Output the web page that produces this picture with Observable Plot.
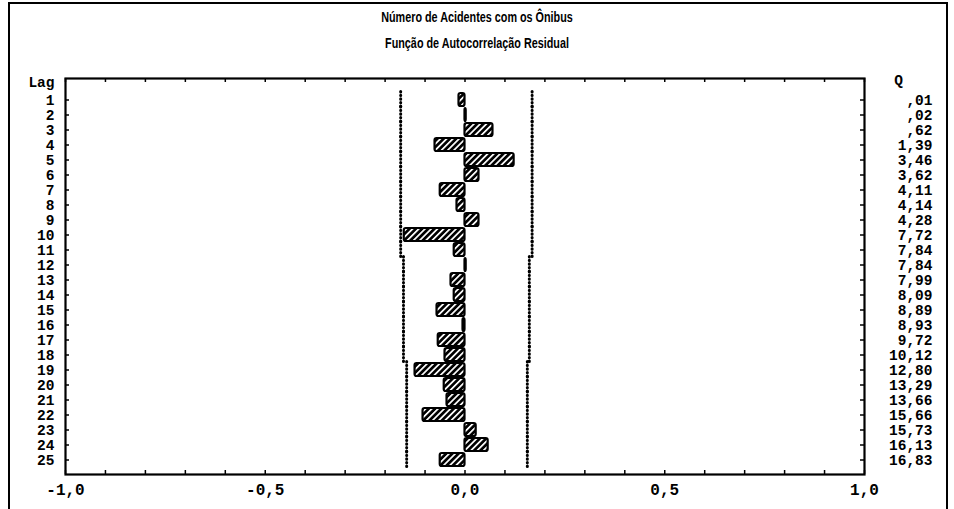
<!DOCTYPE html>
<html>
<head>
<meta charset="utf-8">
<script src="https://cdn.jsdelivr.net/npm/d3@7"></script>
<script src="https://cdn.jsdelivr.net/npm/@observablehq/plot@0.6"></script>
<style>
  body { margin: 0; background: #fff; }
  #wrap { position: relative; width: 954px; height: 509px; overflow: hidden; background: #fff; }
  #border { position: absolute; left: 8px; top: 2px; width: 936px; height: 540px; border: 2px solid #000; border-bottom: none; pointer-events: none; }
  #head { height: 74px; position: relative; }
  .t { position: absolute; left: 0; width: 954px; text-align: center; font-family: "Liberation Sans", Arial, sans-serif; font-weight: bold; font-size: 15px; color: #000; transform: scaleX(0.72); transform-origin: 477px 0; }
  #t1 { top: 8px; }
  #t2 { top: 34px; }
  svg { display: block; }
</style>
</head>
<body>
<div id="wrap">
  <div id="head">
    <div class="t" id="t1">Número de Acidentes com os Ônibus</div>
    <div class="t" id="t2">Função de Autocorrelação Residual</div>
  </div>
  <div id="chart"></div>
  <div id="border"></div>
</div>
<script>
// ---- data ----
const lags = [1,2,3,4,5,6,7,8,9,10,11,12,13,14,15,16,17,18,19,20,21,22,23,24,25];
const acf = [-0.015, 0.003, 0.07, -0.075, 0.123, 0.035, -0.062, -0.02, 0.035, -0.152,
             -0.027, 0.003, -0.035, -0.027, -0.07, -0.005, -0.067, -0.05, -0.125, -0.052,
             -0.045, -0.105, 0.028, 0.058, -0.062];
const qLabels = [",01", ",02", ",62", "1,39", "3,46", "3,62", "4,11", "4,14", "4,28", "7,72",
                 "7,84", "7,84", "7,99", "8,09", "8,89", "8,93", "9,72", "10,12", "12,80", "13,29",
                 "13,66", "15,66", "15,73", "16,13", "16,83"];
const lowerLimit = [-0.161,-0.161,-0.161,-0.161,-0.161,-0.161,-0.161,-0.161,-0.161,-0.161,-0.161,
                    -0.154,-0.154,-0.154,-0.154,-0.154,-0.154,-0.154,
                    -0.146,-0.146,-0.146,-0.146,-0.146,-0.146,-0.146];
const upperLimit = [0.168,0.168,0.168,0.168,0.168,0.168,0.168,0.168,0.168,0.168,0.168,
                    0.161,0.161,0.161,0.161,0.161,0.161,0.161,
                    0.156,0.156,0.156,0.156,0.156,0.156,0.156];
const xTicks = [-1, -0.5, 0, 0.5, 1];
const minorTicks = d3.range(-10, 11).map(i => i / 10);

const rows = lags.map((lag, i) => ({lag, r: acf[i], q: qLabels[i], lo: lowerLimit[i], hi: upperLimit[i]}));

const mono = "'Liberation Mono', 'DejaVu Sans Mono', monospace";
const W = 954, H = 435, mT = 4, mB = 35, mL = 65, mR = 90;
const frameW = W - mL - mR, frameH = H - mT - mB;

const dotted = {stroke: "#000", strokeWidth: 3, strokeLinecap: "round", strokeDasharray: "0.4,3.2", insetTop: -1.4, insetBottom: -1.4};

const chart = Plot.plot({
  width: W,
  height: H,
  marginTop: mT,
  marginBottom: mB,
  marginLeft: mL,
  marginRight: mR,
  style: {fontFamily: mono, background: "#fff", color: "#000", overflow: "visible"},
  x: {domain: [-1, 1]},
  y: {type: "band", domain: lags, padding: 0.14, insetTop: 9, insetBottom: 3, axis: null},
  marks: [
    // confidence limits (dotted)
    Plot.ruleX(rows, {x: "lo", y1: "lag", y2: "lag", ...dotted}),
    Plot.ruleX(rows, {x: "hi", y1: "lag", y2: "lag", ...dotted}),
    // bars
    Plot.barX(rows, {x1: 0, x2: "r", y: "lag", fill: "url(#hatch)", stroke: "#000", strokeWidth: 2.2, rx: 2}),
    // inward ticks
    Plot.tickY(lags, {y: d => d, stroke: "#000", strokeWidth: 1.5, insetRight: frameW - 4}),
    Plot.tickY(lags, {y: d => d, stroke: "#000", strokeWidth: 1.5, insetLeft: frameW - 4}),
    Plot.tickX(minorTicks, {x: d => d, stroke: "#000", strokeWidth: 1.5, insetTop: frameH - 4}),
    Plot.tickX(minorTicks, {x: d => d, stroke: "#000", strokeWidth: 1.5, insetBottom: frameH - 4}),
    Plot.frame({stroke: "#000", strokeWidth: 2.2}),
    // lag labels (left) and Q labels (right)
    Plot.text(rows, {y: "lag", text: d => String(d.lag), frameAnchor: "left", dx: -11, textAnchor: "end",
      fontFamily: mono, fontWeight: "bold", fontSize: 14.5, fill: "#000"}),
    Plot.text(rows, {y: "lag", text: "q", frameAnchor: "right", dx: 68, textAnchor: "end",
      fontFamily: mono, fontWeight: "bold", fontSize: 14.5, fill: "#000"}),
    Plot.text(["Lag"], {frameAnchor: "top-left", dx: -11, dy: 4, lineAnchor: "middle", textAnchor: "end",
      fontFamily: mono, fontWeight: "bold", fontSize: 14.5, fill: "#000"}),
    Plot.text(["Q"], {frameAnchor: "top-right", dx: 34, dy: 2, lineAnchor: "middle", textAnchor: "middle",
      fontFamily: mono, fontWeight: "bold", fontSize: 14.5, fill: "#000"}),
    // x axis
    Plot.axisX(xTicks, {anchor: "bottom", tickSize: 0, tickPadding: 9,
      tickFormat: d => d.toFixed(1).replace(".", ","),
      fontFamily: mono, fontWeight: "bold", fontSize: 16, fill: "#000", label: null})
  ]
});

const ns = "http://www.w3.org/2000/svg";
const defs = document.createElementNS(ns, "defs");
defs.innerHTML = '<pattern id="hatch" patternUnits="userSpaceOnUse" width="4.4" height="4.4" patternTransform="rotate(45)">' +
  '<rect width="4.4" height="4.4" fill="#000"/><rect x="0" y="0" width="1.7" height="4.4" fill="#fff"/></pattern>';
chart.insertBefore(defs, chart.firstChild);
document.getElementById("chart").appendChild(chart);
</script>
</body>
</html>
